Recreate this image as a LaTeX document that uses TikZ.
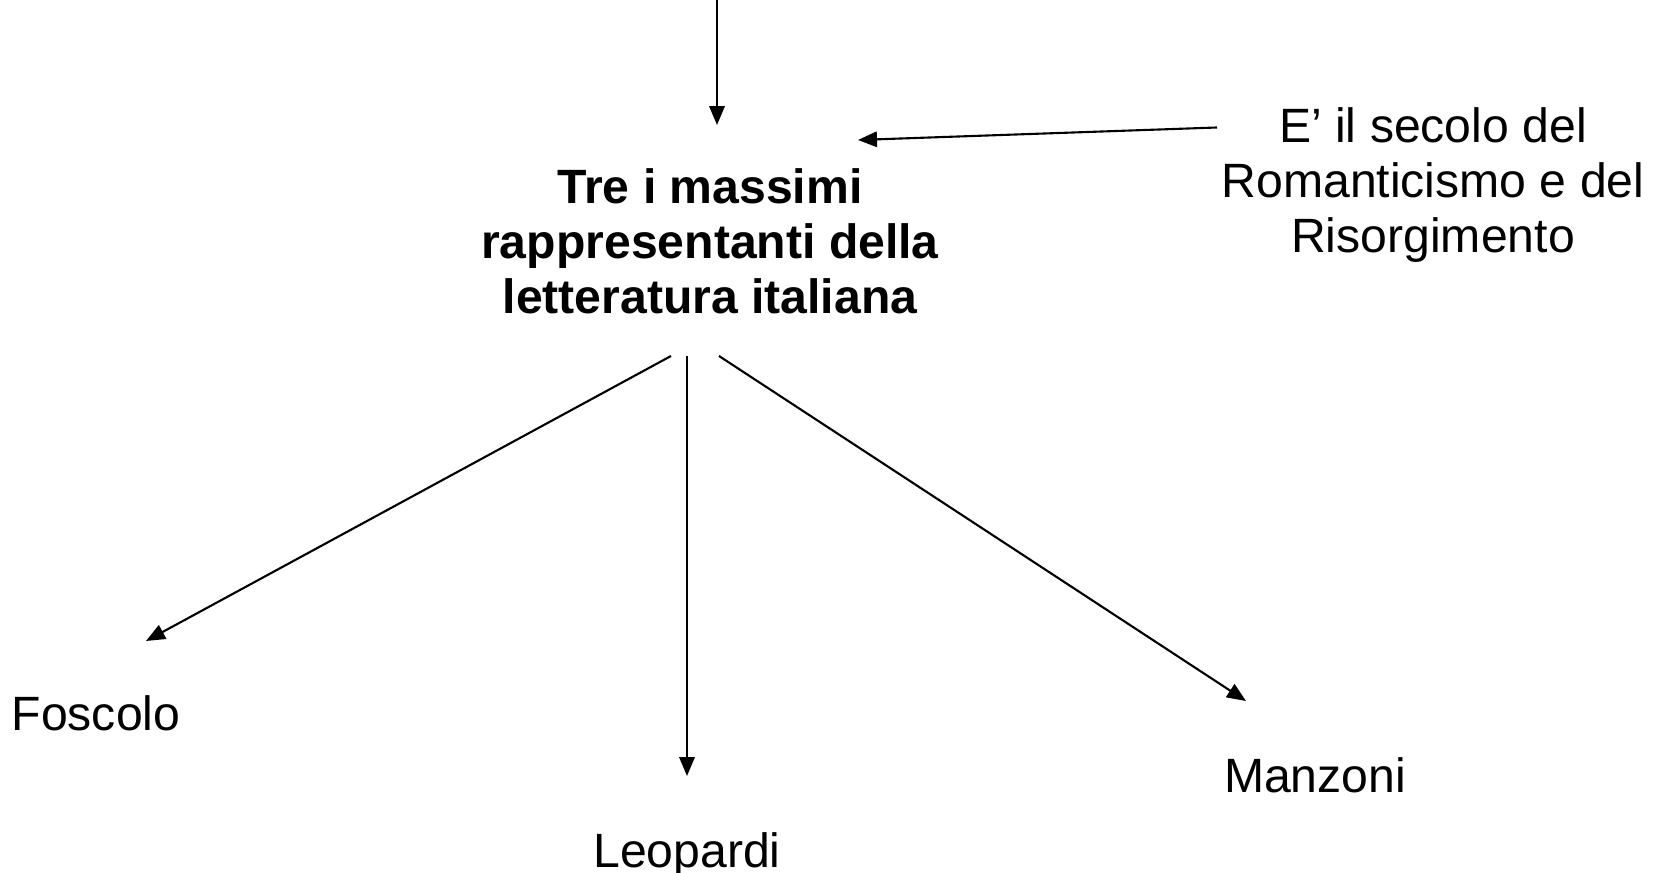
\documentclass[tikz,border=0pt]{standalone}
\usepackage{fontspec}
\setmainfont{Liberation Sans}
\usetikzlibrary{arrows.meta}

\begin{document}
\begin{tikzpicture}[
      label/.style={font=\fontsize{13.7}{15.7}\selectfont, align=center,
                    inner sep=0pt, anchor=base},
      title/.style={label, font=\fontsize{13.7}{15.7}\selectfont\bfseries},
      link/.style={-{Triangle[length=5.4pt,width=4.4pt]}, line width=0.6pt}
    ]
      \useasboundingbox (0,0) rectangle (16.66,-8.73);
      % texts (base = last line)
      \node[title] (autori)   at (7.10,-3.14) {Tre i massimi\\rappresentanti della\\letteratura italiana};
      \node[label] (secolo)   at (14.33,-2.53) {E’ il secolo del\\Romanticismo e del\\Risorgimento};
      \node[label] (foscolo)  at (0.96,-7.31) {Foscolo};
      \node[label] (leopardi) at (6.87,-8.67) {Leopardi};
      \node[label] (manzoni)  at (13.15,-7.93) {Manzoni};
      % arrow ends
      \coordinate (in)    at (7.17,0);
      \coordinate (inTip) at (7.17,-1.25);
      \coordinate (secOut) at (12.17,-1.275);
      \coordinate (secTip) at (8.58,-1.40);
      \coordinate (outF) at (6.71,-3.56);
      \coordinate (outL) at (6.87,-3.56);
      \coordinate (outM) at (7.19,-3.56);
      \coordinate (tipF) at (1.46,-6.41);
      \coordinate (tipL) at (6.87,-7.76);
      \coordinate (tipM) at (12.46,-7.01);
      % arrows
      \draw[link] (in) -- (inTip);
      \draw[link] (secOut) -- (secTip);
      \draw[link] (outF) -- (tipF);
      \draw[link] (outL) -- (tipL);
      \draw[link] (outM) -- (tipM);
    \end{tikzpicture}
\end{document}
